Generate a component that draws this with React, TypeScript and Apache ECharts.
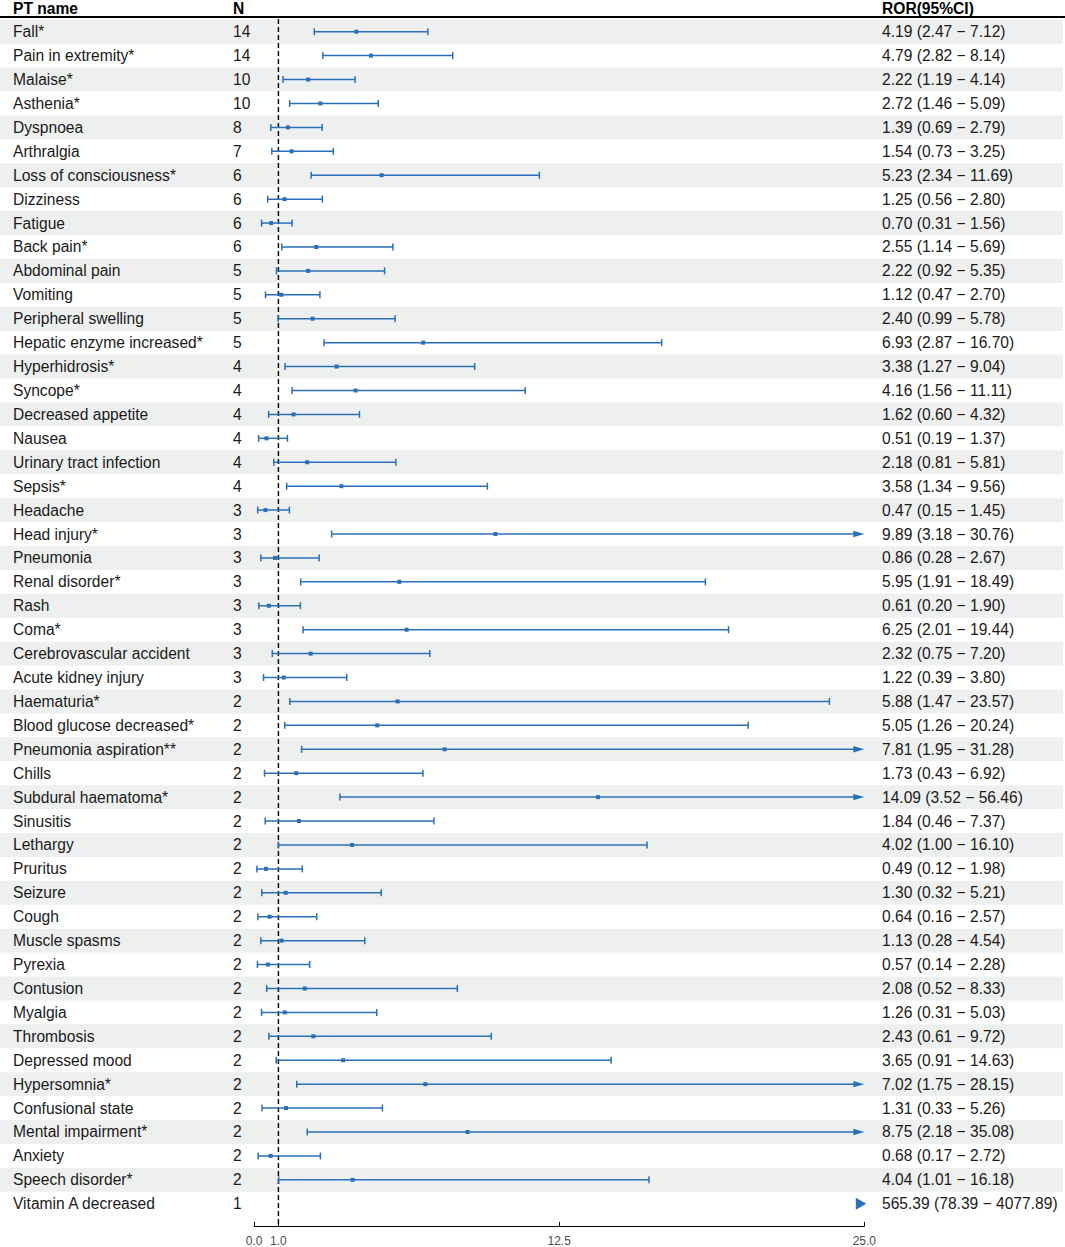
import React, { useEffect, useRef } from "react";
import * as echarts from "echarts";

const names = [
  "Fall*", "Pain in extremity*", "Malaise*", "Asthenia*", "Dyspnoea", "Arthralgia",
  "Loss of consciousness*", "Dizziness", "Fatigue", "Back pain*", "Abdominal pain", "Vomiting",
  "Peripheral swelling", "Hepatic enzyme increased*", "Hyperhidrosis*", "Syncope*",
  "Decreased appetite", "Nausea", "Urinary tract infection", "Sepsis*", "Headache",
  "Head injury*", "Pneumonia", "Renal disorder*", "Rash", "Coma*", "Cerebrovascular accident",
  "Acute kidney injury", "Haematuria*", "Blood glucose decreased*", "Pneumonia aspiration**",
  "Chills", "Subdural haematoma*", "Sinusitis", "Lethargy", "Pruritus", "Seizure", "Cough",
  "Muscle spasms", "Pyrexia", "Contusion", "Myalgia", "Thrombosis", "Depressed mood",
  "Hypersomnia*", "Confusional state", "Mental impairment*", "Anxiety", "Speech disorder*",
  "Vitamin A decreased",
];
const counts = [
  14, 14, 10, 10, 8, 7, 6, 6, 6, 6, 5, 5, 5, 5, 4, 4, 4, 4, 4, 4, 3, 3, 3, 3, 3, 3, 3, 3,
  2, 2, 2, 2, 2, 2, 2, 2, 2, 2, 2, 2, 2, 2, 2, 2, 2, 2, 2, 2, 2, 1,
];
const ror = [
  4.19, 4.79, 2.22, 2.72, 1.39, 1.54, 5.23, 1.25, 0.70, 2.55, 2.22, 1.12, 2.40, 6.93, 3.38,
  4.16, 1.62, 0.51, 2.18, 3.58, 0.47, 9.89, 0.86, 5.95, 0.61, 6.25, 2.32, 1.22, 5.88, 5.05,
  7.81, 1.73, 14.09, 1.84, 4.02, 0.49, 1.30, 0.64, 1.13, 0.57, 2.08, 1.26, 2.43, 3.65, 7.02,
  1.31, 8.75, 0.68, 4.04, 565.39,
];
const lower = [
  2.47, 2.82, 1.19, 1.46, 0.69, 0.73, 2.34, 0.56, 0.31, 1.14, 0.92, 0.47, 0.99, 2.87, 1.27,
  1.56, 0.60, 0.19, 0.81, 1.34, 0.15, 3.18, 0.28, 1.91, 0.20, 2.01, 0.75, 0.39, 1.47, 1.26,
  1.95, 0.43, 3.52, 0.46, 1.00, 0.12, 0.32, 0.16, 0.28, 0.14, 0.52, 0.31, 0.61, 0.91, 1.75,
  0.33, 2.18, 0.17, 1.01, 78.39,
];
const upper = [
  7.12, 8.14, 4.14, 5.09, 2.79, 3.25, 11.69, 2.80, 1.56, 5.69, 5.35, 2.70, 5.78, 16.70, 9.04,
  11.11, 4.32, 1.37, 5.81, 9.56, 1.45, 30.76, 2.67, 18.49, 1.90, 19.44, 7.20, 3.80, 23.57,
  20.24, 31.28, 6.92, 56.46, 7.37, 16.10, 1.98, 5.21, 2.57, 4.54, 2.28, 8.33, 5.03, 9.72,
  14.63, 28.15, 5.26, 35.08, 2.72, 16.18, 4077.89,
];
const xTicks = [0, 1, 12.5, 25];
const X_MIN = 0;
const X_MAX = 25;
const REF_LINE = 1;
const headers = ["PT name", "N", "ROR(95%CI)"];

const FONT = "Liberation Sans, Arial, Helvetica, sans-serif";
const FS = 15.6;
const BLUE = "#2a6fb8";
const Y_MIN = -0.6145;
const Y_MAX = 49.93;

const fmt = (v: number) => v.toFixed(2);

export default function App() {
  const ref = useRef<HTMLDivElement>(null);
  useEffect(() => {
    document.body.style.margin = "0";
    const chart = echarts.init(ref.current as HTMLDivElement, null, { renderer: "svg" });

    const rowData = names.map((_, i) => [ror[i], i, lower[i], upper[i]]);
    const bandData = names.map((_, i) => [0, i]);

    const option: any = {
      animation: false,
      grid: { left: 254, right: 200.7, top: 17, bottom: 21, containLabel: false },
      xAxis: {
        type: "value",
        min: X_MIN,
        max: X_MAX,
        splitLine: { show: false },
        axisLine: { show: true, onZero: false, lineStyle: { color: "#000", width: 1 } },
        axisTick: { show: true, inside: true, length: 4, customValues: xTicks, lineStyle: { color: "#000" } },
        axisLabel: {
          customValues: xTicks,
          formatter: (v: number) => v.toFixed(1),
          fontSize: 12,
          color: "#4d4d4d",
          fontFamily: FONT,
          margin: 9,
        },
      },
      yAxis: {
        type: "value",
        min: Y_MIN,
        max: Y_MAX,
        inverse: true,
        show: false,
        splitLine: { show: false },
      },
      graphic: [
        {
          type: "line",
          shape: { x1: 0, y1: 17, x2: 1065, y2: 17 },
          style: { stroke: "#000", lineWidth: 2 },
          z: 10,
        },
        {
          type: "text", x: 13, y: 8,
          style: { text: headers[0], font: `bold ${FS}px ${FONT}`, fill: "#000", verticalAlign: "middle", align: "left" },
        },
        {
          type: "text", x: 233, y: 8,
          style: { text: headers[1], font: `bold ${FS}px ${FONT}`, fill: "#000", verticalAlign: "middle", align: "left" },
        },
        {
          type: "text", x: 882, y: 8,
          style: { text: headers[2], font: `bold ${FS}px ${FONT}`, fill: "#000", verticalAlign: "middle", align: "left" },
        },
      ],
      series: [
        {
          type: "custom",
          name: "bands",
          clip: false,
          z: 1,
          data: bandData,
          encode: { x: 0, y: 1 },
          renderItem: (params: any, api: any) => {
            const i = api.value(1);
            if (i % 2 !== 0) return null;
            const y0 = api.coord([0, i - 0.5])[1];
            const y1 = api.coord([0, i + 0.5])[1];
            return {
              type: "rect",
              shape: { x: 0, y: Math.min(y0, y1), width: 1063, height: Math.abs(y1 - y0) },
              style: { fill: "#eef0ef" },
            };
          },
        },
        {
          type: "custom",
          name: "ref",
          clip: false,
          z: 2,
          data: [[REF_LINE, 0]],
          encode: { x: 0, y: 1 },
          renderItem: (params: any, api: any) => {
            const p0 = api.coord([api.value(0), Y_MIN]);
            const p1 = api.coord([api.value(0), Y_MAX]);
            return {
              type: "line",
              shape: { x1: p0[0], y1: p0[1] + 2, x2: p1[0], y2: p1[1] },
              style: { stroke: "#111", lineWidth: 1.5, lineDash: [5, 3] },
            };
          },
        },
        {
          type: "custom",
          name: "rows",
          clip: false,
          z: 3,
          data: rowData,
          encode: { x: 0, y: 1 },
          renderItem: (params: any, api: any) => {
            const i = params.dataIndex;
            const est = api.value(0);
            const lo = api.value(2);
            const hi = api.value(3);
            const cy = api.coord([0, i])[1];
            const children: any[] = [];
            const textStyle = (t: string, x: number) => ({
              type: "text",
              x,
              y: cy,
              style: { text: t, font: `${FS}px ${FONT}`, fill: "#1a1a1a", verticalAlign: "middle", align: "left" },
            });
            children.push(textStyle(names[i], 13));
            children.push(textStyle(String(counts[i]), 233));
            const xMaxPx = api.coord([X_MAX, i])[0];
            if (lo > X_MAX) {
              children.push({
                type: "polygon",
                shape: { points: [[xMaxPx - 8.5, cy - 6], [xMaxPx + 2, cy], [xMaxPx - 8.5, cy + 6]] },
                style: { fill: BLUE },
              });
              children.push(textStyle(`${fmt(est)} (${fmt(lo)} \u2212 ${fmt(hi)})`, 882));
              return { type: "group", children };
            }
            const xl = api.coord([lo, i])[0];
            const xh = api.coord([Math.min(hi, X_MAX), i])[0];
            const clipped = hi > X_MAX;
            children.push({
              type: "line",
              shape: { x1: xl, y1: cy, x2: clipped ? xh - 8 : xh, y2: cy },
              style: { stroke: BLUE, lineWidth: 1.5 },
            });
            children.push({
              type: "line",
              shape: { x1: xl, y1: cy - 3.5, x2: xl, y2: cy + 3.5 },
              style: { stroke: BLUE, lineWidth: 1.5 },
            });
            if (clipped) {
              children.push({
                type: "polygon",
                shape: { points: [[xh - 11, cy - 3.2], [xh, cy], [xh - 11, cy + 3.2]] },
                style: { fill: BLUE },
              });
            } else {
              children.push({
                type: "line",
                shape: { x1: xh, y1: cy - 3.5, x2: xh, y2: cy + 3.5 },
                style: { stroke: BLUE, lineWidth: 1.5 },
              });
            }
            const xe = api.coord([est, i])[0];
            children.push({
              type: "rect",
              shape: { x: xe - 2, y: cy - 2, width: 4, height: 4 },
              style: { fill: BLUE },
            });
            children.push(textStyle(`${fmt(est)} (${fmt(lo)} \u2212 ${fmt(hi)})`, 882));
            return { type: "group", children };
          },
        },
      ],
    };
    chart.setOption(option);
    return () => chart.dispose();
  }, []);
  return <div ref={ref} style={{ width: 1065, height: 1247 }} />;
}
